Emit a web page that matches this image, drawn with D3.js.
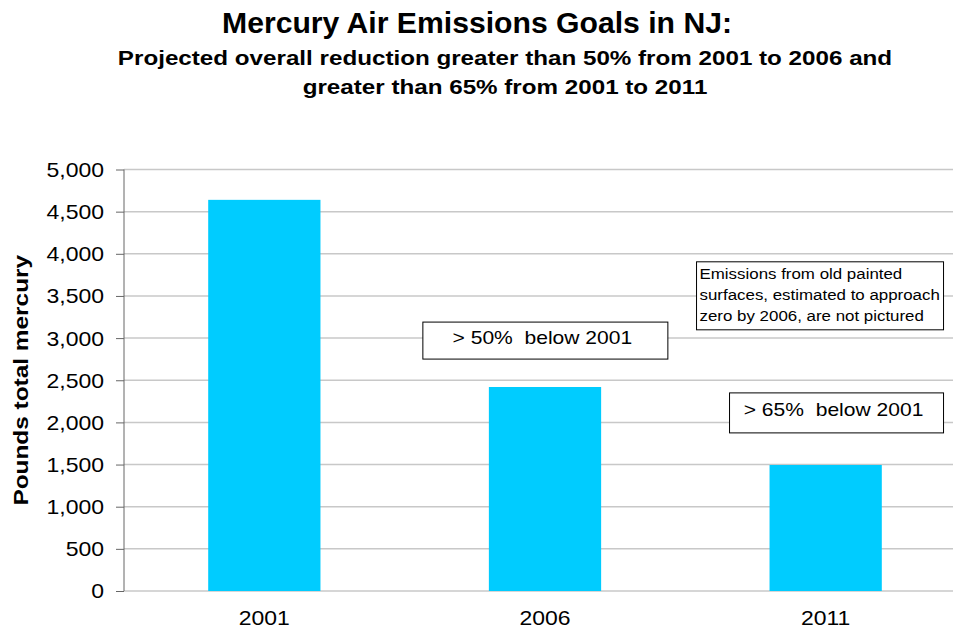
<!DOCTYPE html>
<html>
<head>
<meta charset="utf-8">
<script src="https://cdn.jsdelivr.net/npm/d3@7"></script>
<style>
  body { margin: 0; background: #fff; }
  svg { display: block; font-family: "Liberation Sans", Arial, sans-serif; }
  text { white-space: pre; }
</style>
</head>
<body>
<script>
// data
var years = ["2001", "2006", "2011"];
var pounds = [4640, 2420, 1495];
var yTicks = [0, 500, 1000, 1500, 2000, 2500, 3000, 3500, 4000, 4500, 5000];

var W = 953, H = 631;
var margin = {top: 169.5, right: -13, bottom: 40, left: 124};
var width = W - margin.left - margin.right,
    height = H - margin.top - margin.bottom;

var svg = d3.select("body").append("svg")
    .attr("width", W)
    .attr("height", H);

// the reference fonts look a bit wider than Arial, so stretch text horizontally
function label(parent, tx, ty, str, size, sx, opts) {
  opts = opts || {};
  return parent.append("text")
      .attr("transform", "translate(" + tx + "," + ty + ")" + (opts.rotate ? "rotate(" + opts.rotate + ")" : "") + "scale(" + sx + ",1)")
      .attr("text-anchor", opts.anchor || "middle")
      .style("font-size", size + "px")
      .style("font-weight", opts.bold ? "bold" : null)
      .text(str);
}

// Titles
label(svg, 477, 33, "Mercury Air Emissions Goals in NJ:", 29, 1.04, {bold: true});
label(svg, 505, 65, "Projected overall reduction greater than 50% from 2001 to 2006 and", 20, 1.21, {bold: true});
label(svg, 505, 94, "greater than 65% from 2001 to 2011", 20, 1.21, {bold: true});

var g = svg.append("g")
    .attr("transform", "translate(" + margin.left + "," + margin.top + ")");

var x = d3.scaleBand()
    .domain(years)
    .range([0, width])
    .paddingInner(0.6)
    .paddingOuter(0.3);

var y = d3.scaleLinear()
    .domain([0, 5000])
    .range([height, 0]);

// gridlines
g.selectAll(".grid")
    .data(yTicks)
    .enter().append("line")
    .attr("class", "grid")
    .attr("x1", 0).attr("x2", width)
    .attr("y1", function(d) { return y(d); })
    .attr("y2", function(d) { return y(d); })
    .attr("stroke", "#c8c8c8")
    .attr("stroke-width", 1.5);

// bars
g.selectAll(".bar")
    .data(pounds)
    .enter().append("rect")
    .attr("class", "bar")
    .attr("x", function(d, i) { return x(years[i]); })
    .attr("width", x.bandwidth())
    .attr("y", function(d) { return y(d); })
    .attr("height", function(d) { return height - y(d); })
    .attr("fill", "#00ccff");

// y axis
var yAxis = g.append("g")
    .call(d3.axisLeft(y).tickValues(yTicks).tickFormat(d3.format(",")).tickSize(8).tickPadding(12));
yAxis.select(".domain").attr("stroke", "#666").attr("d", "M0," + y(5000) + "V" + y(0));
yAxis.selectAll(".tick line").attr("stroke", "#666");
yAxis.selectAll(".tick text")
    .attr("x", null).attr("dy", null)
    .attr("transform", "translate(-20,0)scale(1.15,1)")
    .attr("dominant-baseline", "central")
    .style("font-size", "20px")
    .style("font-family", "'Liberation Sans', Arial, sans-serif")
    .attr("fill", "#000");

// x labels
years.forEach(function(d) {
  label(g, x(d) + x.bandwidth() / 2, height + 34, d, 20.5, 1.12);
});

// y title
label(svg, 28, margin.top + height / 2, "Pounds total mercury", 20, 1.22, {bold: true, rotate: -90});

// annotation boxes
function note(x0, y0, w, h, lines, size, sx, first, step, anchor) {
  var b = svg.append("g");
  b.append("rect")
      .attr("x", x0).attr("y", y0).attr("width", w).attr("height", h)
      .attr("fill", "#fff").attr("stroke", "#000").attr("stroke-width", 1);
  lines.forEach(function(t, i) {
    label(b, anchor === "middle" ? x0 + w / 2 - 3 : x0 + 3, y0 + first + i * step, t, size, sx, {anchor: anchor});
  });
}

var bx = function(yr) { return margin.left + x(yr); };
var by = function(v) { return margin.top + y(v); };

note(bx("2006") - 66, by(3190), 245, 37, ["> 50%  below 2001"], 18, 1.17, 22, 0, "middle");
note(bx("2011") - 40, by(2350), 214, 40, ["> 65%  below 2001"], 18, 1.17, 23, 0, "middle");
note(bx("2011") - 73, by(3905), 247, 68,
  ["Emissions from old painted", "surfaces, estimated to approach", "zero by 2006, are not pictured"], 15.5, 1.09, 17, 21, "start");
</script>
</body>
</html>
